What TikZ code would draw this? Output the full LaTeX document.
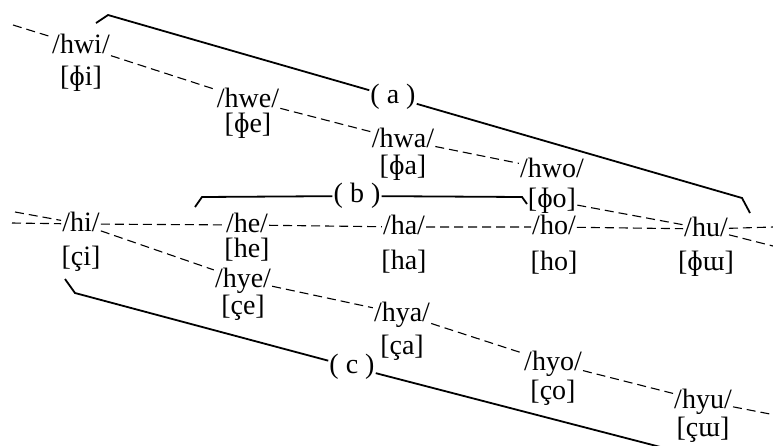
\documentclass[tikz,border=0pt]{standalone}
\usepackage{fontspec}
\setmainfont{Liberation Serif}
\usetikzlibrary{positioning}

\begin{document}
\begin{tikzpicture}[
  x=1pt, y=-1pt,
  node distance=3pt,
  fonema/.style={inner sep=1pt, text height=20pt, text depth=6pt,
                 font=\fontsize{28}{31}\selectfont},
  rotulo/.style={inner sep=1pt, font=\fontsize{28}{31}\selectfont},
  liga/.style={dash pattern=on 9pt off 5pt, line width=1.1pt},
  chave/.style={line width=1.8pt}
]
  \useasboundingbox (0,0) rectangle (773,445);

  % fileira /hw-/
  \node[fonema] (hwi) at (81,46) {/hwi/};
  \node[fonema] (hwe) at (248,100) {/hwe/};
  \node[fonema] (hwa) at (403,140) {/hwa/};
  \node[fonema] (hwo) at (552,170) {/hwo/};
  \node[fonema, below=4pt of hwi] (hwi-f) {[ɸi]};
  \node[fonema, below=-3pt of hwe] (hwe-f) {[ɸe]};
  \node[fonema, below=-1pt of hwa] (hwa-f) {[ɸa]};
  \node[fonema, below=2pt of hwo] (hwo-f) {[ɸo]};

  % fileira /h-/
  \node[fonema] (hi) at (81,224) {/hi/};
  \node[fonema] (he) at (247,225) {/he/};
  \node[fonema] (ha) at (404,227) {/ha/};
  \node[fonema] (ho) at (554,227) {/ho/};
  \node[fonema] (hu) at (706,229) {/hu/};
  \node[fonema, below=6pt of hi] (hi-f) {[çi]};
  \node[fonema, below=-3pt of he] (he-f) {[he]};
  \node[fonema, below=7pt of ha] (ha-f) {[ha]};
  \node[fonema, below=8pt of ho] (ho-f) {[ho]};
  \node[fonema, below=6pt of hu] (hu-f) {[ɸɯ]};

  % fileira /hy-/
  \node[fonema] (hye) at (243,280) {/hye/};
  \node[fonema] (hya) at (402,314) {/hya/};
  \node[fonema] (hyo) at (553,363) {/hyo/};
  \node[fonema] (hyu) at (703,401) {/hyu/};
  \node[fonema, below=-1pt of hye] (hye-f) {[çe]};
  \node[fonema, below=5pt of hya] (hya-f) {[ça]};
  \node[fonema, below=1pt of hyo] (hyo-f) {[ço]};
  \node[fonema, below=0pt of hyu] (hyu-f) {[çɯ]};

  % pontas soltas
  \coordinate (l1) at (13,25);
  \coordinate (l2) at (12,223);
  \coordinate (l3) at (15,212);
  \coordinate (r1) at (773,227);
  \coordinate (r2) at (773,246);
  \coordinate (r3) at (770,414);

  \draw[liga] (l1) -- (hwi) -- (hwe) -- (hwa) -- (hwo);
  \draw[liga] (hwo-f) -- (hu);
  \draw[liga] (l2) -- (hi);
  \draw[liga] (l3) -- (hi);
  \draw[liga] (hi) -- (he) -- (ha) -- (ho) -- (hu) -- (r1);
  \draw[liga] (hu) -- (r2);
  \draw[liga] (hi) -- (hye) -- (hya) -- (hyo) -- (hyu) -- (r3);

  % chaves
  \node[rotulo] (a) at (393,97) {( a )};
  \node[rotulo] (b) at (357,196) {( b )};
  \node[rotulo] (c) at (352,367) {( c )};
  \coordinate (a1) at (96,23);
  \coordinate (a2) at (108,15);
  \coordinate (a3) at (742,198);
  \coordinate (a4) at (750,213);
  \coordinate (b1) at (195,207);
  \coordinate (b2) at (202,197);
  \coordinate (b3) at (522,197);
  \coordinate (b4) at (527,204);
  \coordinate (c1) at (65,279);
  \coordinate (c2) at (75,293);
  \coordinate (c3) at (672,450);

  \draw[chave] (a1) -- (a2) -- (a);
  \draw[chave] (a) -- (a3) -- (a4);
  \draw[chave] (b1) -- (b2) -- (b);
  \draw[chave] (b) -- (b3) -- (b4);
  \draw[chave] (c1) -- (c2) -- (c);
  \draw[chave] (c) -- (c3);
\end{tikzpicture}
\end{document}
